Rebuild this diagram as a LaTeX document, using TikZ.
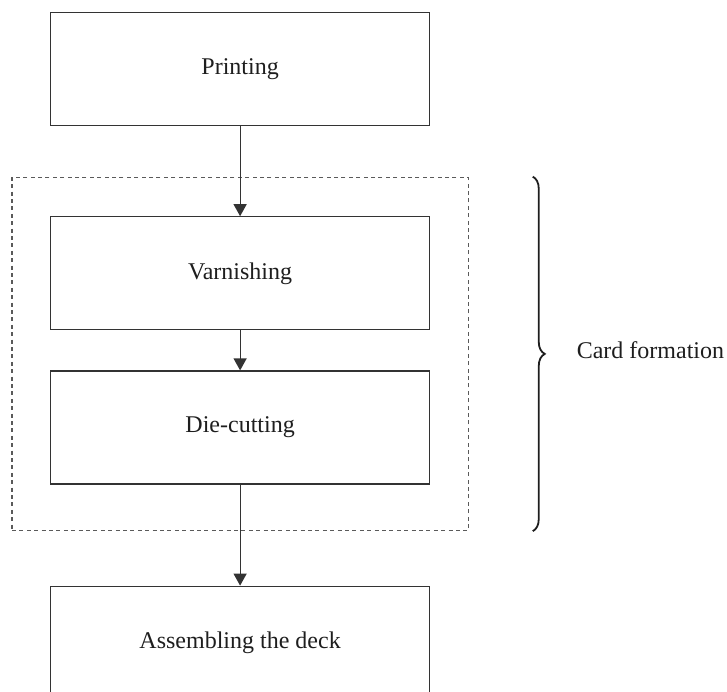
\documentclass[tikz,border=0pt]{standalone}
\usepackage{fontspec}
\setmainfont{Liberation Serif}
\usetikzlibrary{arrows.meta,positioning,decorations.pathreplacing,fit}
\definecolor{linegray}{HTML}{333333}
\definecolor{dashgray}{HTML}{5A5A5A}
\definecolor{textblack}{HTML}{1E1E1E}
\tikzset{
  stage/.style={
    draw=linegray,
    line width=0.6pt,
    minimum width=189.5pt,
    minimum height=56.5pt,
    inner sep=0pt,
    font=\fontsize{12}{14}\selectfont,
    text=textblack,
  },
  flow/.style={
    -{Triangle[length=6pt,width=6.5pt]},
    line width=0.6pt,
    draw=linegray,
  },
  group/.style={
    draw=dashgray,
    dash pattern=on 2pt off 1.7pt,
    line width=0.55pt,
    inner xsep=19pt,
    inner ysep=0pt,
  },
  group brace/.style={
    decorate,
    decoration={brace, amplitude=6pt},
    line width=0.9pt,
    draw=textblack,
  },
  side label/.style={
    font=\fontsize{12}{14}\selectfont,
    text=textblack,
  },
}

\begin{document}
\begin{tikzpicture}
  \useasboundingbox (0,0) rectangle (363.5pt,-345.5pt);

  \node[stage, anchor=north west] (print) at (25pt,-6pt) {Printing};
  \node[stage, below=45pt of print] (varnish) {Varnishing};
  \node[stage, below=20pt of varnish] (diecut) {Die-cutting};
  \node[stage, below=50.5pt of diecut] (deck) {Assembling the deck};

  % dashed frame round the card steps
  \node[group, fit={([yshift=19.5pt]varnish.north west) ([yshift=-23pt]diecut.south east)}] (card) {};

  \draw[flow] (print) -- (varnish);
  \draw[flow] (varnish) -- (diecut);
  \draw[flow] (diecut) -- (deck);

  \draw[group brace] ([xshift=32pt]card.north east) -- ([xshift=32pt]card.south east);
  \node[side label, anchor=west] (cardlabel) at ([xshift=50.5pt,yshift=2pt]card.east) {Card formation};
\end{tikzpicture}
\end{document}
